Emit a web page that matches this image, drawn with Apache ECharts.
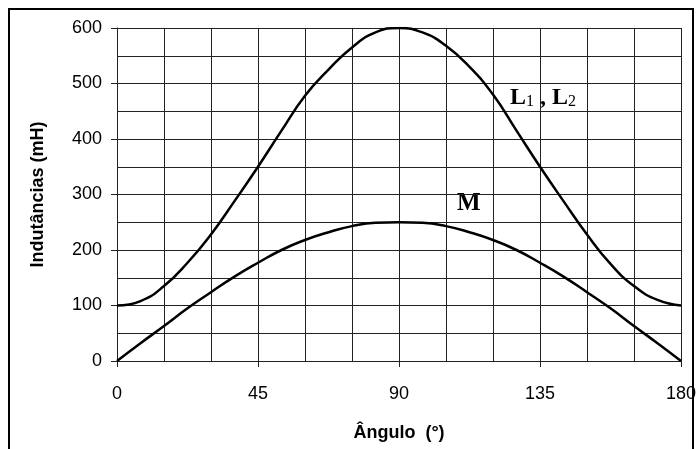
<!DOCTYPE html>
<html>
<head>
<meta charset="utf-8">
<script src="https://cdn.jsdelivr.net/npm/echarts@6/dist/echarts.min.js"></script>
<style>
  html, body { margin: 0; padding: 0; background: #fff; }
  #main { width: 700px; height: 449px; }
</style>
</head>
<body>
<div id="main"></div>
<script>
// ângulos (graus)
var angulos = [0, 7.5, 15, 22.5, 30, 37.5, 45, 52.5, 60, 67.5, 75, 82.5, 90,
  97.5, 105, 112.5, 120, 127.5, 135, 142.5, 150, 157.5, 165, 172.5, 180];
// L1, L2 (mH)
var indL = [100, 108, 135, 177, 228, 288, 350, 415, 478, 525, 565, 592, 600,
  592, 568, 530, 480, 415, 350, 288, 228, 175, 135, 110, 100];
// M (mH)
var indM = [0, 32, 63, 95, 124, 152, 177, 200, 218, 232, 243, 249, 250,
  249, 243, 232, 218, 200, 177, 152, 124, 95, 63, 32, 0];

function pares(xs, ys) {
  var out = [];
  for (var i = 0; i < xs.length; i++) out.push([xs[i], ys[i]]);
  return out;
}

var myChart = echarts.init(document.getElementById('main'));

var gridLine = { show: true, lineStyle: { color: '#222', width: 1 } };
var serif = '"Liberation Serif", "Times New Roman", serif';

var option = {
  backgroundColor: '#fff',
  animation: false,
  textStyle: { fontFamily: 'Liberation Sans, Arial, sans-serif' },
  grid: { left: 117, right: 19, top: 28, bottom: 88 },
  xAxis: {
    type: 'value',
    min: 0, max: 180, interval: 45,
    name: 'Ângulo  (°)',
    nameLocation: 'middle',
    nameGap: 63,
    nameTextStyle: { fontSize: 18, fontWeight: 'bold', color: '#000' },
    axisLine: { show: true, onZero: false, lineStyle: { color: '#222', width: 1 } },
    axisTick: { show: true, length: 6, lineStyle: { color: '#222' } },
    axisLabel: { fontSize: 18, color: '#000', margin: 24 },
    splitLine: gridLine,
    minorTick: { show: false, splitNumber: 3 },
    minorSplitLine: gridLine
  },
  yAxis: {
    type: 'value',
    min: 0, max: 600, interval: 100,
    name: 'Indutâncias (mH)',
    nameLocation: 'middle',
    nameGap: 70,
    nameTextStyle: { fontSize: 18, fontWeight: 'bold', color: '#000' },
    axisLine: { show: true, lineStyle: { color: '#222', width: 1 } },
    axisTick: { show: true, length: 6, lineStyle: { color: '#222' } },
    axisLabel: { fontSize: 18, color: '#000', margin: 15 },
    splitLine: gridLine,
    minorTick: { show: false, splitNumber: 2 },
    minorSplitLine: gridLine
  },
  series: [
    {
      name: 'L1, L2',
      type: 'line',
      smooth: true,
      showSymbol: false,
      lineStyle: { color: '#000', width: 2.5 },
      data: pares(angulos, indL)
    },
    {
      name: 'M',
      type: 'line',
      smooth: true,
      showSymbol: false,
      lineStyle: { color: '#000', width: 2.5 },
      data: pares(angulos, indM)
    }
  ],
  graphic: [
    {
      type: 'rect',
      shape: { x: 9, y: 9, width: 684, height: 470 },
      style: { fill: null, stroke: '#000', lineWidth: 2 }
    },
    {
      type: 'text',
      left: 510, top: 86,
      style: {
        text: '{b|L}{s|1}{b| , L}{s|2}',
        rich: {
          b: { fontFamily: serif, fontWeight: 'bold', fontSize: 24, fill: '#000', verticalAlign: 'bottom' },
          s: { fontFamily: serif, fontSize: 16, fill: '#000', padding: [9, 0, 0, 0], verticalAlign: 'bottom' }
        }
      }
    },
    {
      type: 'text',
      left: 457, top: 191,
      style: {
        text: 'M',
        font: 'bold 25px ' + serif,
        fill: '#000'
      }
    }
  ]
};

myChart.setOption(option);
</script>
</body>
</html>
